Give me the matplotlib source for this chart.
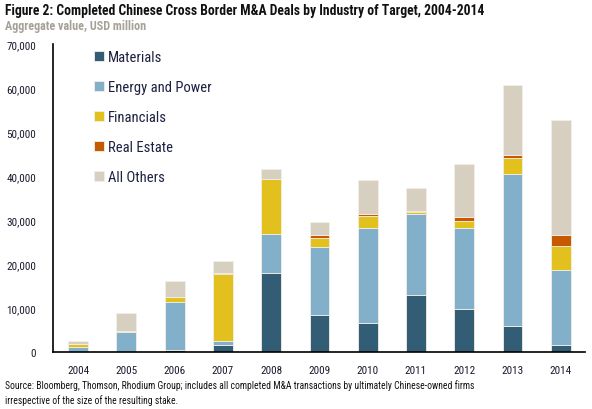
import numpy as np
import matplotlib.pyplot as plt

years = ['2004', '2005', '2006', '2007', '2008', '2009', '2010', '2011', '2012', '2013', '2014']
materials = [100, 100, 500, 1700, 18000, 8500, 6700, 13000, 9700, 5800, 1700]
energy = [1000, 4400, 10800, 900, 8900, 15300, 21600, 18300, 18500, 34600, 17000]
financials = [700, 200, 1200, 15200, 12400, 2200, 2700, 500, 1600, 3800, 5400]
real_estate = [100, 100, 0, 200, 0, 700, 300, 300, 900, 600, 2600]
others = [500, 4100, 3700, 2700, 2300, 2900, 7900, 5200, 12100, 16000, 26100]

series = [
    ('Materials', materials, '#335c75'),
    ('Energy and Power', energy, '#82afc9'),
    ('Financials', financials, '#e2c11e'),
    ('Real Estate', real_estate, '#c55a00'),
    ('All Others', others, '#d7d0c0'),
]

plt.rcParams['font.family'] = ['Roboto Condensed', 'DejaVu Sans']

fig = plt.figure(figsize=(5.92, 4.10), dpi=100)
ax = fig.add_axes([0.0895, 0.139, 0.8985, 0.751])

x = np.arange(len(years))
bottom = np.zeros(len(years))
for name, vals, col in series:
    vals = np.array(vals, dtype=float)
    ax.bar(x, vals, 0.41, bottom=bottom, color=col, label=name,
           edgecolor='#f2efe8', linewidth=0.6)
    bottom += vals

ax.set_xlim(-0.52, 10.5)
ax.set_ylim(0, 70000)
ax.set_yticks(range(0, 70001, 10000))
ax.set_yticklabels(['0' if v == 0 else '{:,}'.format(v) for v in range(0, 70001, 10000)])
ax.set_xticks(x)
ax.set_xticklabels(years)
ax.tick_params(axis='y', length=0, pad=12, labelsize=8, colors='#1a1a2e')
ax.tick_params(axis='x', length=0, pad=9, labelsize=8, colors='#1a1a2e')
for s in ['top', 'right']:
    ax.spines[s].set_visible(False)
ax.spines['left'].set_linewidth(1.2)
ax.spines['bottom'].set_linewidth(1.2)

leg = ax.legend(loc='upper left', bbox_to_anchor=(0.06, 1.01), frameon=False,
                fontsize=10.5, handlelength=0.7, handleheight=0.7,
                handletextpad=0.3, labelspacing=1.1, borderaxespad=0.2)
for t in leg.get_texts():
    t.set_color('#1c2140')

fig.text(0.009, 0.974, 'Figure 2: Completed Chinese Cross Border M&A Deals by Industry of Target, 2004-2014',
         fontsize=9.8, fontweight='bold', color='#111111', va='center', ha='left')
fig.text(0.009, 0.935, 'Aggregate value, USD million', fontsize=8.7, fontweight='bold',
         color='#a7a198', va='center', ha='left')
fig.text(0.009, 0.06, 'Source: Bloomberg, Thomson, Rhodium Group; includes all completed M&A transactions by ultimately Chinese-owned firms',
         fontsize=6.9, color='#111111', va='center', ha='left')
fig.text(0.009, 0.024, 'irrespective of the size of the resulting stake.',
         fontsize=6.9, color='#111111', va='center', ha='left')

fig.savefig('out.png', dpi=100)
